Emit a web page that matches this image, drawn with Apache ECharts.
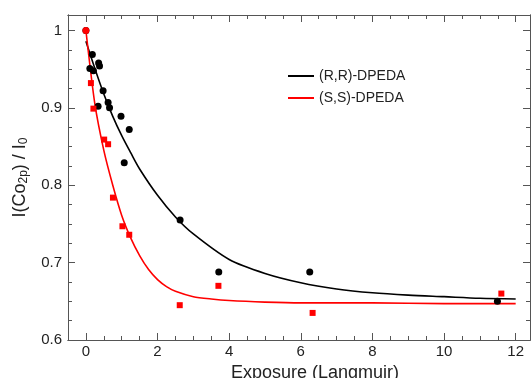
<!DOCTYPE html>
<html><head><meta charset="utf-8">
<script src="https://cdn.jsdelivr.net/npm/echarts@6/dist/echarts.min.js"></script>
<style>html,body{margin:0;padding:0;background:#fff}#c{width:531px;height:378px}</style>
</head><body><div id="c"></div>
<script>
// Measured data (R,R)-DPEDA: black circles
const rrX = [0, 0.11, 0.18, 0.21, 0.34, 0.355, 0.38, 0.48, 0.62, 0.66, 0.98, 1.07, 1.21, 2.63, 3.71, 6.25, 11.49];
const rrY = [1.0, 0.951, 0.969, 0.948, 0.902, 0.958, 0.954, 0.922, 0.907, 0.900, 0.889, 0.829, 0.872, 0.755, 0.688, 0.688, 0.650];
// Measured data (S,S)-DPEDA: red squares (first point drawn as circle)
const ssX = [0.14, 0.21, 0.51, 0.62, 0.755, 1.02, 1.21, 2.62, 3.70, 6.33, 11.6];
const ssY = [0.932, 0.899, 0.859, 0.853, 0.784, 0.747, 0.736, 0.645, 0.670, 0.635, 0.660];
const ssStartX = [0];
const ssStartY = [1.0];
// Fit curves
const rrFitX = [0, 0.25, 0.5, 0.75, 1, 1.25, 1.5, 2, 2.5, 3, 4, 5, 6, 7, 8, 9, 10, 11, 12];
const rrFit  = [0.986, 0.951, 0.918, 0.889, 0.864, 0.842, 0.821, 0.787, 0.759, 0.737, 0.704, 0.686, 0.674, 0.666, 0.661, 0.658, 0.656, 0.654, 0.653];
const ssFitX = [0, 0.25, 0.5, 0.75, 1, 1.25, 1.5, 1.75, 2, 2.25, 2.5, 3, 3.5, 4, 5, 6, 8, 10, 12];
const ssFit  = [1.0, 0.905, 0.845, 0.800, 0.761, 0.732, 0.709, 0.691, 0.678, 0.669, 0.663, 0.656, 0.653, 0.651, 0.649, 0.648, 0.648, 0.647, 0.647];
// Tick labels
const xMajor = [0, 2, 4, 6, 8, 10, 12];
const xMinor = [0.5, 1, 1.5, 2.5, 3, 3.5, 4.5, 5, 5.5, 6.5, 7, 7.5, 8.5, 9, 9.5, 10.5, 11, 11.5];
const yMajor = [0.6, 0.7, 0.8, 0.9, 1.0];
const yMinor = [0.625, 0.65, 0.675, 0.725, 0.75, 0.775, 0.825, 0.85, 0.875, 0.925, 0.95, 0.975];

const zip = (a, b) => a.map((v, i) => [v, b[i]]);
const FONT = 'Liberation Sans';
const AX = '#555';
const XMIN = -0.5, XMAX = 12.4, YMIN = 0.6, YMAX = 1.02;

function xAxisDef(pos, vals, len, labels, name) {
  return {
    type: 'value', position: pos, min: XMIN, max: XMAX,
    axisLine: { show: true, onZero: false, lineStyle: { color: AX, width: 1 } },
    axisTick: { show: true, inside: true, length: len, customValues: vals, lineStyle: { color: AX } },
    axisLabel: labels ? { show: true, customValues: vals, fontFamily: FONT, fontSize: 15, color: '#222', margin: 4 } : { show: false },
    splitLine: { show: false },
    name: name || '', nameLocation: 'middle', nameGap: 24,
    nameTextStyle: { fontFamily: FONT, fontSize: 18, color: '#222', padding: [0, 0, 0, 32] }
  };
}
function yAxisDef(pos, vals, len, labels, name) {
  return {
    type: 'value', position: pos, min: YMIN, max: YMAX,
    axisLine: { show: true, onZero: false, lineStyle: { color: AX, width: 1 } },
    axisTick: { show: true, inside: true, length: len, customValues: vals, lineStyle: { color: AX } },
    axisLabel: labels ? { show: true, customValues: vals, fontFamily: FONT, fontSize: 15, color: '#222', margin: 6,
      formatter: v => (Math.abs(v - 1) < 1e-9 ? '1' : v.toFixed(1)) } : { show: false },
    splitLine: { show: false },
    name: name || '', nameLocation: 'middle', nameGap: 38, nameRotate: 90,
    nameTextStyle: name ? {
      fontFamily: FONT, fontSize: 18, color: '#222',
      rich: { sub: { fontFamily: FONT, fontSize: 12, color: '#222', verticalAlign: 'bottom', padding: [8, 0, 0, 0] } }
    } : {}
  };
}

const chart = echarts.init(document.getElementById('c'), null, { renderer: 'canvas' });
chart.setOption({
  animation: false,
  backgroundColor: '#fff',
  grid: { left: 68, top: 15, width: 462, height: 325, containLabel: false, outerBoundsMode: 'none' },
  legend: {
    left: 283, top: 64, orient: 'vertical', itemGap: 8, itemWidth: 26, itemHeight: 2,
    data: [{ name: '(R,R)-DPEDA', icon: 'rect' }, { name: '(S,S)-DPEDA', icon: 'rect' }],
    textStyle: { fontFamily: FONT, fontSize: 14, color: '#222' }
  },
  xAxis: [
    xAxisDef('bottom', xMajor, 7, true, 'Exposure (Langmuir)'),
    xAxisDef('bottom', xMinor, 4, false),
    xAxisDef('top', xMajor, 7, false),
    xAxisDef('top', xMinor, 4, false)
  ],
  yAxis: [
    yAxisDef('left', yMajor, 7, true, 'I(Co{sub|2p}) / I{sub|0}'),
    yAxisDef('left', yMinor, 4, false),
    yAxisDef('right', yMajor, 7, false),
    yAxisDef('right', yMinor, 4, false)
  ],
  series: [
    { name: '(R,R)-DPEDA', type: 'line', smooth: 0.3, symbol: 'none', data: zip(rrFitX, rrFit),
      lineStyle: { color: '#000', width: 1.6 }, itemStyle: { color: '#000' }, z: 2 },
    { name: '(S,S)-DPEDA', type: 'line', smooth: 0.25, symbol: 'none', data: zip(ssFitX, ssFit),
      lineStyle: { color: '#ff0000', width: 1.6 }, itemStyle: { color: '#ff0000' }, z: 3 },
    { name: 'rr-pts', type: 'scatter', symbol: 'circle', symbolSize: 7, data: zip(rrX, rrY),
      itemStyle: { color: '#000', opacity: 1 }, z: 4 },
    { name: 'ss-pts', type: 'scatter', symbol: 'rect', symbolSize: 6, data: zip(ssX, ssY),
      itemStyle: { color: '#ff0000', opacity: 1 }, z: 5 },
    { name: 'ss-start', type: 'scatter', symbol: 'circle', symbolSize: 7, data: zip(ssStartX, ssStartY),
      itemStyle: { color: '#ff0000', opacity: 1 }, z: 6 }
  ]
});
</script></body></html>
